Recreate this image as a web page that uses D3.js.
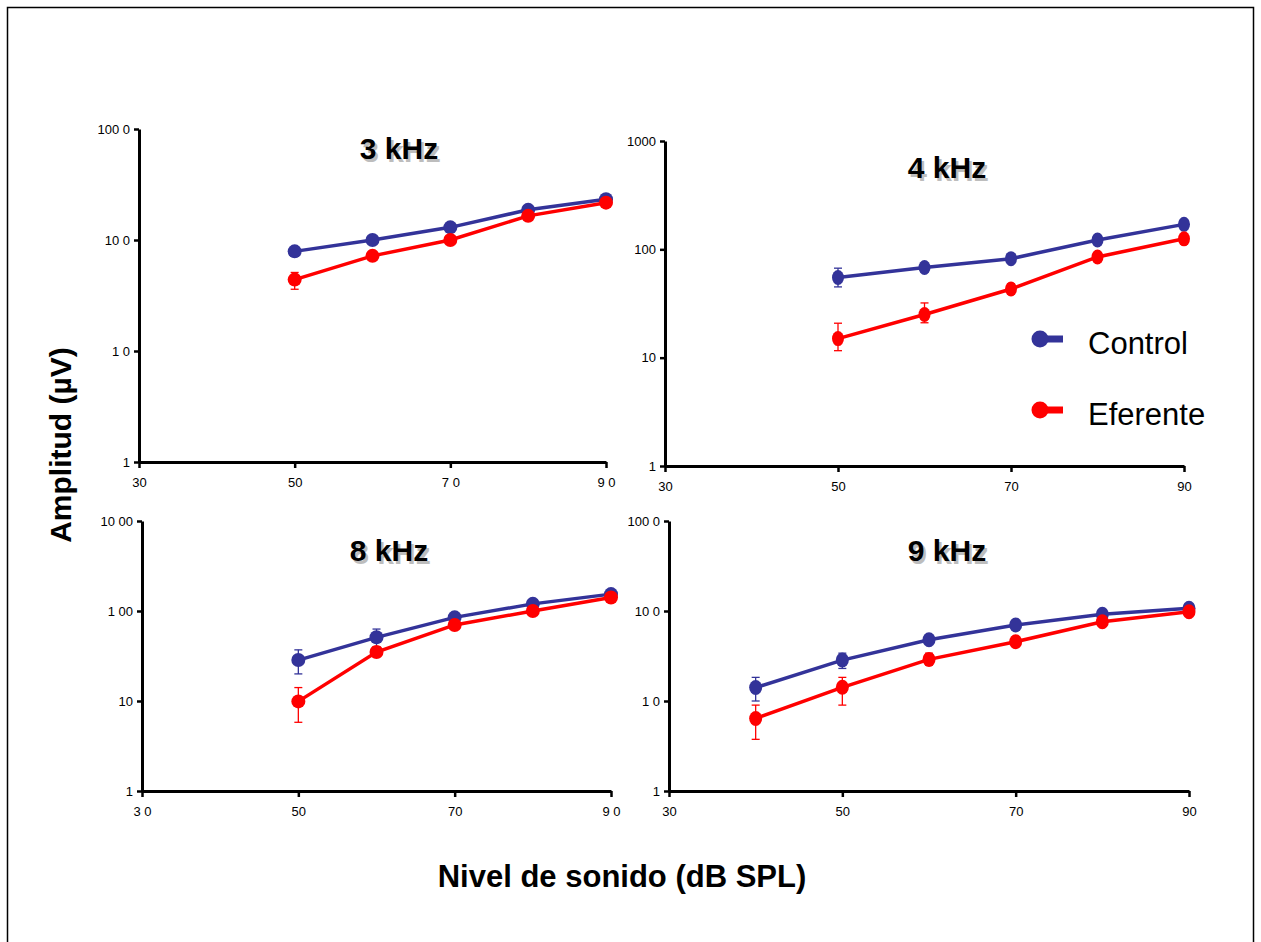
<!DOCTYPE html>
<html>
<head>
<meta charset="utf-8">
<script src="https://cdn.jsdelivr.net/npm/d3@7"></script>
<style>
  body { margin: 0; background: #fff; }
  svg { display: block; font-family: "Liberation Sans", Arial, sans-serif; }
</style>
</head>
<body>
<svg id="grafico"></svg>
<script>
//Niveles de sonido (dB SPL) de cada panel.
var nivelesA = [50, 60, 70, 80, 90];
var nivelesB = [40, 50, 60, 70, 80, 90];

//Titulos de los paneles y nombres de las series.
var titulos = ["3 kHz", "4 kHz", "8 kHz", "9 kHz"];
var series = ["Control", "Eferente"];

//Amplitud media (uV) - 3 kHz.
var control3 = [79, 100, 130, 187, 233];
var eferente3 = [44, 72, 100, 165, 217];
var errControl3 = [[72, 86], [94, 107], [120, 140], [175, 200], [220, 248]];
var errEferente3 = [[36, 51], [66, 79], [92, 108], [155, 176], [205, 230]];

//Amplitud media (uV) - 4 kHz.
var control4 = [55, 68, 82, 122, 170];
var eferente4 = [15, 25, 43, 85, 125];
var errControl4 = [[45, 67], [62, 74], [76, 88], [112, 132], [160, 182]];
var errEferente4 = [[11.6, 20.8], [21, 32], [39, 48], [78, 93], [117, 134]];

//Amplitud media (uV) - 8 kHz.
var control8 = [28.5, 51, 85, 120, 154];
var eferente8 = [9.9, 35, 70, 100, 141];
var errControl8 = [[20, 37], [40, 63], [78, 93], [112, 129], [146, 163]];
var errEferente8 = [[5.8, 14.1], [31, 40], [64, 77], [94, 107], [133, 150]];

//Amplitud media (uV) - 9 kHz.
var control9 = [14.1, 28.5, 48, 70, 92, 107];
var eferente9 = [6.4, 14.2, 29, 45.6, 76, 98];
var errControl9 = [[10, 18.3], [23, 34], [43, 54], [64, 77], [86, 99], [100, 115]];
var errEferente9 = [[3.75, 9], [9, 18.3], [25, 34], [40, 52], [68, 85], [92, 105]];

//Marcas de los ejes y sus etiquetas (tal como aparecen).
var ticksX = [30, 50, 70, 90];
var ticksY = [1, 10, 100, 1000];
var etqX3 = ["30", "50", "7 0", "9 0"];
var etqY3 = ["1", "1 0", "10 0", "100 0"];
var etqX4 = ["30", "50", "70", "90"];
var etqY4 = ["1", "10", "100", "1000"];
var etqX8 = ["3 0", "50", "70", "9 0"];
var etqY8 = ["1", "10", "1 00", "10 00"];
var etqX9 = ["30", "50", "70", "90"];
var etqY9 = ["1", "1 0", "10 0", "100 0"];

var colores = ["#333399", "#ff0000"];

var svg = d3.select("#grafico")
    .attr("width", 1261)
    .attr("height", 942);

//Marco exterior.
svg.append("rect")
    .attr("x", 7.5)
    .attr("y", 7.5)
    .attr("width", 1246)
    .attr("height", 1000)
    .attr("fill", "none")
    .attr("stroke", "#000")
    .attr("stroke-width", 1.5);

//Configuracion de cada panel (posicion en pixeles).
var paneles = [
  {titulo: titulos[0], x: nivelesA, datos: [control3, eferente3], err: [errControl3, errEferente3],
   etqX: etqX3, etqY: etqY3, x0: 139, x1: 606, y0: 462, y1: 129, tx: 399, ty: 159, rx: 7, ry: 7},
  {titulo: titulos[1], x: nivelesA, datos: [control4, eferente4], err: [errControl4, errEferente4],
   etqX: etqX4, etqY: etqY4, x0: 665, x1: 1184, y0: 466, y1: 141, tx: 947, ty: 178, rx: 6, ry: 7.5},
  {titulo: titulos[2], x: nivelesA, datos: [control8, eferente8], err: [errControl8, errEferente8],
   etqX: etqX8, etqY: etqY8, x0: 142, x1: 611, y0: 791, y1: 521, tx: 389, ty: 561, rx: 7, ry: 7},
  {titulo: titulos[3], x: nivelesB, datos: [control9, eferente9], err: [errControl9, errEferente9],
   etqX: etqX9, etqY: etqY9, x0: 669, x1: 1189, y0: 791, y1: 521, tx: 947, ty: 561, rx: 6.5, ry: 7.5}
];

paneles.forEach(function(p) {
  var xScale = d3.scaleLinear().domain([30, 90]).range([p.x0, p.x1]);
  var yScale = d3.scaleLog().domain([1, 1000]).range([p.y0, p.y1]);
  var g = svg.append("g");

  //Eje X.
  var ejeX = g.append("g")
      .attr("transform", "translate(0," + p.y0 + ")")
      .call(d3.axisBottom(xScale)
        .tickValues(ticksX)
        .tickSize(6)
        .tickSizeOuter(0)
        .tickPadding(10)
        .tickFormat(function(d, i) { return p.etqX[i]; }));

  //Eje Y (logaritmico).
  var ejeY = g.append("g")
      .attr("transform", "translate(" + p.x0 + ",0)")
      .call(d3.axisLeft(yScale)
        .tickValues(ticksY)
        .tickSize(5)
        .tickSizeOuter(0)
        .tickPadding(4)
        .tickFormat(function(d, i) { return p.etqY[i]; }));

  [ejeX, ejeY].forEach(function(e) {
    e.attr("font-family", "'Liberation Sans', Arial, sans-serif").attr("font-size", 13);
    e.select(".domain").attr("stroke", "#000").attr("stroke-width", 3);
    e.selectAll(".tick line").attr("stroke", "#000").attr("stroke-width", 2.5);
    e.selectAll(".tick text").attr("fill", "#000");
  });

  //Series: Control y Eferente.
  p.datos.forEach(function(valores, s) {
    var puntos = valores.map(function(v, i) {
      return {x: p.x[i], y: v, lo: p.err[s][i][0], hi: p.err[s][i][1]};
    });

    //Barras de error.
    var barras = g.selectAll(".barra" + s)
      .data(puntos)
      .enter()
      .append("g");
    barras.append("line")
      .attr("x1", function(d) { return xScale(d.x); })
      .attr("x2", function(d) { return xScale(d.x); })
      .attr("y1", function(d) { return yScale(d.lo); })
      .attr("y2", function(d) { return yScale(d.hi); })
      .attr("stroke", colores[s])
      .attr("stroke-width", 1.3);
    ["lo", "hi"].forEach(function(k) {
      barras.append("line")
        .attr("x1", function(d) { return xScale(d.x) - 4; })
        .attr("x2", function(d) { return xScale(d.x) + 4; })
        .attr("y1", function(d) { return yScale(d[k]); })
        .attr("y2", function(d) { return yScale(d[k]); })
        .attr("stroke", colores[s])
        .attr("stroke-width", 1.3);
    });

    //Linea que une las medias.
    var linea = d3.line()
      .x(function(d) { return xScale(d.x); })
      .y(function(d) { return yScale(d.y); });
    g.append("path")
      .datum(puntos)
      .attr("d", linea)
      .attr("fill", "none")
      .attr("stroke", colores[s])
      .attr("stroke-width", 3.5);

    //Puntos.
    g.selectAll(".punto" + s)
      .data(puntos)
      .enter()
      .append("ellipse")
      .attr("cx", function(d) { return xScale(d.x); })
      .attr("cy", function(d) { return yScale(d.y); })
      .attr("rx", p.rx)
      .attr("ry", p.ry)
      .attr("fill", colores[s]);
  });

  //Titulo con sombra.
  g.append("text")
    .attr("x", p.tx + 2.5)
    .attr("y", p.ty + 2.5)
    .attr("text-anchor", "middle")
    .attr("font-size", 30)
    .attr("font-weight", "bold")
    .attr("fill", "#bdbdbd")
    .text(p.titulo);
  g.append("text")
    .attr("x", p.tx)
    .attr("y", p.ty)
    .attr("text-anchor", "middle")
    .attr("font-size", 30)
    .attr("font-weight", "bold")
    .attr("fill", "#000")
    .text(p.titulo);
});

//Leyenda.
var leyenda = svg.append("g");
var leyY = [339, 410];
series.forEach(function(nombre, s) {
  leyenda.append("line")
    .attr("x1", 1040)
    .attr("x2", 1063)
    .attr("y1", leyY[s])
    .attr("y2", leyY[s])
    .attr("stroke", colores[s])
    .attr("stroke-width", 7);
  leyenda.append("circle")
    .attr("cx", 1040)
    .attr("cy", leyY[s])
    .attr("r", 8.5)
    .attr("fill", colores[s]);
  leyenda.append("text")
    .attr("x", 1088)
    .attr("y", leyY[s] + 15)
    .attr("font-size", 31)
    .attr("fill", "#000")
    .text(nombre);
});

//Rotulo eje Y.
svg.append("text")
  .attr("transform", "translate(71,445) rotate(-90)")
  .attr("text-anchor", "middle")
  .attr("font-size", 30)
  .attr("font-weight", "bold")
  .text("Amplitud (µV)");

//Rotulo eje X.
svg.append("text")
  .attr("x", 622)
  .attr("y", 887)
  .attr("text-anchor", "middle")
  .attr("font-size", 31)
  .attr("font-weight", "bold")
  .text("Nivel de sonido (dB SPL)");
</script>
</body>
</html>
